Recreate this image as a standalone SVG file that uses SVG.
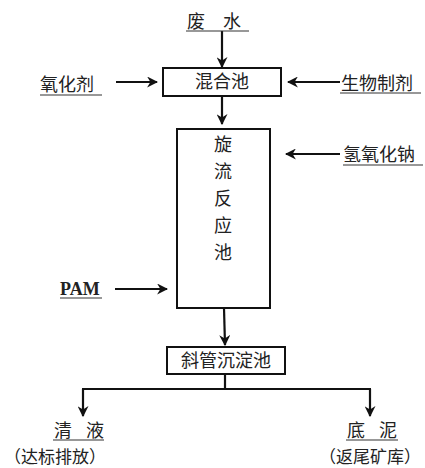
<svg xmlns="http://www.w3.org/2000/svg" width="425" height="468" viewBox="0 0 425 468">
<style>
.t{font-family:"Noto Sans CJK SC","Liberation Serif",serif;font-size:18px;fill:#222;}
.s{font-family:"Noto Sans CJK SC","Liberation Serif",serif;font-size:17px;fill:#222;}
.p{font-family:"Liberation Serif",serif;font-size:18px;font-weight:bold;fill:#222;}
.b{fill:#fff;stroke:#111;stroke-width:2;}
.u{stroke:#333;stroke-width:1.2;}
.c{stroke:#111;stroke-width:2.2;fill:none;marker-end:url(#ah);}
.l{stroke:#111;stroke-width:2.2;fill:none;}
</style>
<defs>
<marker id="ah" viewBox="0 0 10 10" refX="9" refY="5" markerWidth="5" markerHeight="5" markerUnits="strokeWidth" orient="auto">
<path d="M0,0 L10,5 L0,10 L3,5 z" fill="#111"/>
</marker>
</defs>
<rect width="425" height="468" fill="#fff"/>
<g id="connectors">
<line class="c" x1="222" y1="31" x2="222" y2="67"/>
<line class="c" x1="116" y1="82" x2="157" y2="82"/>
<line class="c" x1="340" y1="82" x2="288" y2="82"/>
<line class="c" x1="222" y1="96" x2="222" y2="124"/>
<line class="c" x1="340" y1="154" x2="286" y2="154"/>
<line class="c" x1="115" y1="289" x2="167" y2="289"/>
<line class="c" x1="224" y1="308" x2="225" y2="345"/>
<polyline class="l" points="225,374 225,389"/>
<line class="l" x1="82" y1="389" x2="371" y2="389"/>
<line class="c" x1="83" y1="389" x2="83" y2="416"/>
<line class="c" x1="370" y1="389" x2="370" y2="416"/>
</g>
<g id="feiShui">
<text class="t" x="187" y="28" word-spacing="14">废 水</text>
<line class="u" x1="186" y1="31" x2="249" y2="31"/>
</g>
<g id="yanghuaji">
<text class="t" x="40" y="91">氧化剂</text>
<line class="u" x1="40" y1="95" x2="102" y2="95"/>
</g>
<g id="shengwuzhiji">
<text class="t" x="341" y="90">生物制剂</text>
<line class="u" x1="340" y1="93" x2="421" y2="93"/>
</g>
<g id="hunhechi">
<rect class="b" x="163" y="68" width="118" height="28"/>
<text class="t" x="222" y="88" text-anchor="middle">混合池</text>
</g>
<g id="naoh">
<text class="t" x="343" y="161">氢氧化钠</text>
<line class="u" x1="343" y1="165" x2="423" y2="165"/>
</g>
<g id="xuanliu">
<rect class="b" x="177" y="129" width="93" height="179"/>
<text class="t" x="223" text-anchor="middle"><tspan x="223" y="151">旋</tspan><tspan x="223" y="178">流</tspan><tspan x="223" y="205">反</tspan><tspan x="223" y="232">应</tspan><tspan x="223" y="259">池</tspan></text>
</g>
<g id="pam">
<text class="p" x="60" y="295">PAM</text>
<line class="u" x1="60" y1="298" x2="102" y2="298"/>
</g>
<g id="xieguan">
<rect class="b" x="167" y="347" width="118" height="27"/>
<text class="t" x="226" y="367" text-anchor="middle">斜管沉淀池</text>
</g>
<g id="qingye">
<text class="t" x="54" y="437" word-spacing="10">清 液</text>
<line class="u" x1="53" y1="440" x2="104" y2="440"/>
<text class="s" x="4" y="463">（达标排放）</text>
</g>
<g id="dini">
<text class="t" x="347" y="437" word-spacing="10">底 泥</text>
<line class="u" x1="346" y1="440" x2="398" y2="440"/>
<text class="s" x="319" y="463">（返尾矿库）</text>
</g>
</svg>
